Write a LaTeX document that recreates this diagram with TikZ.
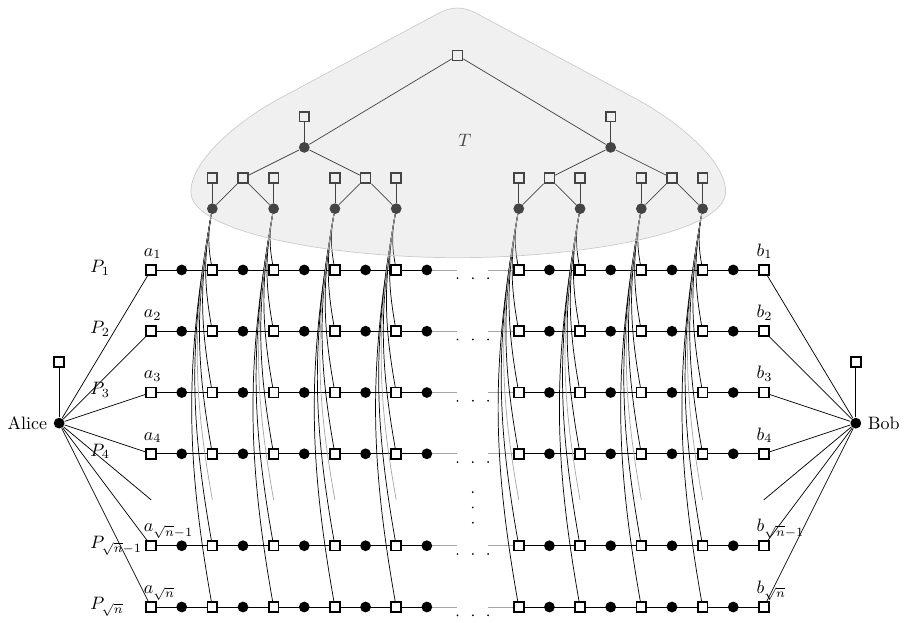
\documentclass[tikz,border=0pt]{standalone}
\usepackage{xcolor}
\definecolor{treeshade}{gray}{0.82}
\definecolor{treeline}{gray}{0.80}
\definecolor{ghostgray}{gray}{0.65}
\pgfdeclarelayer{bg}
\pgfdeclarelayer{fg}
\pgfsetlayers{bg,main,fg}
\tikzset{
  sqnode/.style={
    rectangle,
    draw=black,
    fill=white,
    line width=0.9pt,
    inner sep=0pt,
    minimum size=5.5pt
  },
  dotnode/.style={
    circle,
    fill=black,
    inner sep=0pt,
    minimum size=6pt
  },
  lbl/.style={
    inner sep=0pt,
    anchor=base west
  },
  ghost/.style={
    draw=ghostgray
  }
}
\begin{document}
\begin{tikzpicture}[x=0.6cm,y=0.6cm]
\useasboundingbox (-4.93,-11.52) rectangle (24.80,8.81);

% paths P_i
\foreach \r/\y/\s in {1/0/1, 2/-2/2, 3/-4/3, 4/-6/4, 5/-9/{\sqrt{n}-1}, 6/-11/{\sqrt{n}}}{
  \foreach \x in {0,2,4,6,8,12,14,16,18,20}
    \node[sqnode] (q\r-\x) at (\x,\y) {};
  \foreach \x in {1,3,5,7,9,13,15,17,19}
    \node[dotnode] (d\r-\x) at (\x,\y) {};
  \coordinate (gl\r) at (10,\y);
  \coordinate (gr\r) at (11,\y);
  \node[lbl] (la\r) at (-0.25,\y+0.45) {$a_{\s}$};
  \node[lbl] (lb\r) at (19.75,\y+0.45) {$b_{\s}$};
  \node[lbl] (lp\r) at (-1.99,\y-0.08) {$P_{\s}$};
  \begin{pgfonlayer}{bg}
    \draw (q\r-0.center) -- (d\r-9.center);
    \draw[ghost] (d\r-9.center) -- (gl\r);
    \draw[ghost] (gr\r) -- (q\r-12.center);
    \draw (q\r-12.center) -- (q\r-20.center);
  \end{pgfonlayer}
  \foreach \x in {10,10.5,11}
    \fill (\x,\y-0.27) circle (0.55pt);
}
\foreach \v in {-7.25,-7.75,-8.25}
  \fill (10.5,\v) circle (0.55pt);

% Alice and Bob
\node[dotnode, label=left:Alice] (alice) at (-3,-5) {};
\node[sqnode] (alicekey) at (-3,-3) {};
\node[dotnode, label=right:Bob] (bob) at (23,-5) {};
\node[sqnode] (bobkey) at (23,-3) {};
\coordinate (ga) at (0,-7.5);
\coordinate (gb) at (20,-7.5);

% tree T
\node[sqnode] (root) at (10,7) {};
\foreach \u in {5,15}{
  \node[dotnode] (u\u) at (\u,4) {};
  \node[sqnode] (p\u) at (\u,5) {};
}
\foreach \m in {3,7,13,17}
  \node[sqnode] (m\m) at (\m,3) {};
\foreach \c in {2,4,6,8,12,14,16,18}{
  \node[dotnode] (t\c) at (\c,2) {};
  \node[sqnode] (k\c) at (\c,3) {};
}
\node (tlabel) at (10.24,4.24) {$T$};

\begin{pgfonlayer}{bg}
  \draw (root) -- (u5) (root) -- (u15);
  \foreach \u in {5,15}
    \draw (u\u) -- (p\u);
  \foreach \m/\u/\a/\b in {3/5/2/4, 7/5/6/8, 13/15/12/14, 17/15/16/18}
    \draw (u\u) -- (m\m) (m\m) -- (t\a) (m\m) -- (t\b);
  \foreach \c in {2,4,6,8,12,14,16,18}{
    \draw (t\c) -- (k\c);
    \foreach \r in {1,...,6}
      \draw (t\c) to[bend right=10] (q\r-\c);
    \coordinate (gh\c) at (\c,-7.5);
    \draw[ghost] (t\c) to[bend right=10] (gh\c);
  }
  \foreach \r in {1,...,6}{
    \draw (alice) -- (q\r-0);
    \draw (bob) -- (q\r-20);
  }
  \draw (alice) -- (ga);
  \draw (bob) -- (gb);
  \draw (alice) -- (alicekey);
  \draw (bob) -- (bobkey);
\end{pgfonlayer}

\begin{pgfonlayer}{fg}
  \filldraw[draw=treeline, fill=treeshade, fill opacity=0.33]
    (1.3,2.55) .. controls (1.3,3.6) and (2.9,4.9) .. (4.2,5.6)
    -- (9.3,8.33) .. controls (9.8,8.62) and (10.2,8.62) .. (10.7,8.33)
    -- (15.8,5.6) .. controls (17.1,4.9) and (18.75,3.6) .. (18.75,2.55)
    .. controls (18.75,1.2) and (14,0.4) .. (10,0.4)
    .. controls (6,0.4) and (1.3,1.2) .. cycle;
\end{pgfonlayer}

\end{tikzpicture}
\end{document}
